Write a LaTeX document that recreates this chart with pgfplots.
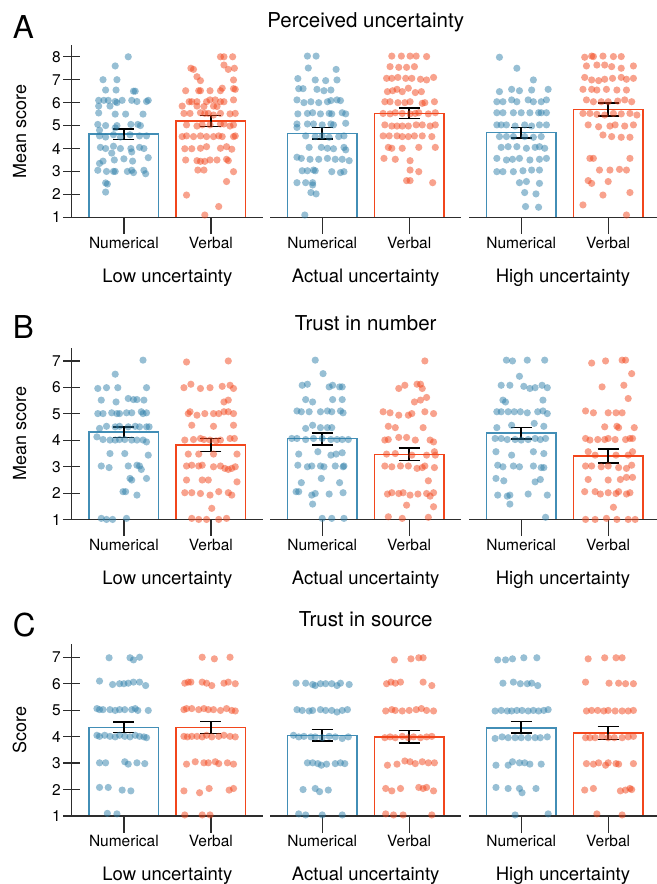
\documentclass[border=0pt]{standalone}
\usepackage{fontspec}
\setmainfont{TeX Gyre Heros}
\usepackage{pgfplots}
\pgfplotsset{compat=1.18}

\definecolor{numblue}{RGB}{48,128,170}
\definecolor{numedge}{RGB}{66,142,182}
\definecolor{verred}{RGB}{242,70,28}
\definecolor{axgray}{RGB}{45,45,45}

\newcommand{\ticksize}{\fontsize{15.5bp}{18bp}\selectfont}
\newcommand{\grpsize}{\fontsize{18.5bp}{22bp}\selectfont}
\newcommand{\labsize}{\fontsize{18bp}{22bp}\selectfont}
\newcommand{\titlesize}{\fontsize{20.5bp}{24bp}\selectfont}
\newcommand{\lettersize}{\fontsize{31.5bp}{36bp}\selectfont}

\pgfplotsset{
  panel/.style={
    scale only axis, height=172bp, width=191.4bp,
    xmin=0.4, xmax=2.6, ymin=1,
    axis on top, axis x line=bottom,
    tick align=outside, major tick length=16.5bp,
    xtick={1,2}, xticklabels={Numerical,Verbal},
    ticklabel style={font=\ticksize},
    xticklabel style={anchor=base, yshift=-14.2bp},
    yticklabel style={inner xsep=1.5bp, xshift=-1bp},
    /pgf/number format/assume math mode=true,
    every axis x label/.style={at={(axis description cs:0.5,0)}, anchor=base, yshift=-64.8bp, font=\grpsize},
    every axis y label/.style={at={(axis description cs:-0.272,0.5)}, rotate=90, anchor=center, font=\labsize},
    every axis title/.style={at={(axis description cs:0.5,1)}, anchor=base, yshift=17.5bp, font=\titlesize},
  },
  lines/.style={
    axis line style={-, line width=1.2bp, draw=axgray},
    x axis line style={-}, y axis line style={-},
    tick style={line width=1.2bp, draw=axgray},
  },
  firstpanel/.style={axis y line=left, lines},
  otherpanel/.style={axis y line=none, lines},
  lastpanel/.style={axis y line=none, width=187.9bp, xmax=2.56, lines},
  rowA/.style={ymax=8.5, ytick={1,...,8}},
  rowBC/.style={ymax=7.5, ytick={1,...,7}},
  numbar/.style={ybar, bar width=0.8, bar shift=0pt, fill=white, draw=numedge, line width=1.5bp},
  verbar/.style={ybar, bar width=0.8, bar shift=0pt, fill=white, draw=verred, line width=1.5bp},
  numdots/.style={only marks, mark=*, mark size=3.6bp, mark options={draw opacity=0, fill=numblue, fill opacity=0.5}},
  verdots/.style={only marks, mark=*, mark size=3.6bp, mark options={draw opacity=0, fill=verred, fill opacity=0.5}},
  errbar/.style={draw=none, mark=none, forget plot, error bars/.cd, y dir=both, y explicit,
    error bar style={line width=1.5bp, draw=black, solid},
    error mark options={line width=1.5bp, draw=black, mark size=10.5bp, rotate=90}},
}

\begin{document}
\begin{tikzpicture}
\useasboundingbox (0,0) rectangle (657bp,-884bp);

% ---------------- Row A: perceived uncertainty ----------------
\node[anchor=base west, inner sep=0, font=\lettersize] at (12.7bp,-38.3bp) {A};

\begin{axis}[panel, firstpanel, rowA, at={(71.7bp,-217.3bp)}, anchor=south west,
  ylabel={Mean score}, xlabel={Low uncertainty}]
\addplot[numbar] coordinates {(1,4.63)};
\addplot[verbar] coordinates {(2,5.21)};
\addplot[numdots] coordinates {
(1.05,8.0)(0.90,7.6)(0.76,7.0)(0.92,7.0)(0.79,6.55)(0.91,6.55)(1.11,6.5)(1.13,6.5)
(0.71,6.1)(0.77,6.1)(0.82,6.1)(0.90,6.05)(0.92,6.0)(0.98,6.1)(1.09,6.1)(1.15,6.05)(1.26,6.05)(1.28,6.1)
(0.71,5.85)(0.84,5.85)(0.71,5.55)(0.90,5.5)(1.02,5.5)(1.22,5.5)
(0.70,5.05)(0.79,5.0)(0.92,5.0)(1.08,5.05)(1.16,5.05)(1.19,5.0)(0.72,4.8)(0.90,4.9)
(0.72,4.55)(0.79,4.5)(0.88,4.6)(0.96,4.5)(1.07,4.6)(1.18,4.55)(1.26,4.55)
(0.73,4.05)(0.79,4.0)(0.88,4.1)(0.96,4.0)(1.08,4.0)(1.18,4.05)(1.23,4.0)(0.86,3.8)(1.09,3.85)
(0.76,3.45)(0.89,3.5)(1.00,3.55)(1.10,3.45)(1.28,3.6)(0.72,3.35)
(0.70,3.05)(0.80,3.0)(0.88,3.0)(0.90,3.0)(1.04,3.0)(1.09,3.05)(1.11,2.95)(1.23,3.05)(1.25,2.9)
(0.79,2.5)(0.81,2.45)(0.79,2.1)
};
\addplot[verdots] coordinates {
(2.11,8.0)(2.15,8.0)(2.25,8.0)
(1.77,7.5)(1.80,7.45)(2.15,7.64)(2.20,7.45)(2.27,7.5)(1.84,7.13)(1.88,6.96)(2.26,6.99)
(1.71,6.52)(1.86,6.52)(1.88,6.52)(1.99,6.52)(2.11,6.52)(2.13,6.63)(2.26,6.61)(2.28,6.58)
(1.75,6.04)(1.78,6.04)(1.84,6.04)(1.95,6.04)(1.99,6.12)(2.05,6.12)(2.11,6.04)(2.15,6.04)(2.26,6.12)
(1.67,5.85)(1.84,5.85)(1.92,5.83)(2.03,5.85)(2.07,5.83)
(1.69,5.53)(1.76,5.53)(1.88,5.56)(1.93,5.53)(1.97,5.53)(2.03,5.46)(2.11,5.53)(2.22,5.51)(2.28,5.53)
(1.72,5.03)(1.84,4.98)(1.90,5.03)(1.99,5.03)(2.11,5.07)(2.15,5.07)(2.22,4.98)(2.26,5.03)
(1.67,4.52)(1.72,4.55)(1.80,4.52)(1.88,4.55)(1.95,4.52)(2.03,4.52)(2.09,4.55)(2.13,4.52)(2.26,4.52)(2.28,4.55)
(1.70,3.99)(1.78,3.99)(1.88,4.01)(1.95,4.08)(2.11,4.01)(2.18,4.08)(2.24,3.97)
(1.71,3.5)(1.84,3.47)(1.88,3.44)(1.93,3.44)(1.99,3.5)(2.07,3.5)(2.18,3.53)(2.20,3.47)
(1.85,3.06)(1.92,3.06)(2.26,2.99)(2.18,2.56)(1.72,1.97)(2.09,1.47)(1.93,1.10)
};
\addplot[errbar] coordinates {(1,4.63) +- (0,0.23) (2,5.20) +- (0,0.24)};
\end{axis}

\begin{axis}[panel, otherpanel, rowA, at={(270bp,-217.3bp)}, anchor=south west,
  xlabel={Actual uncertainty}, title={Perceived uncertainty}]
\addplot[numbar] coordinates {(1,4.66)};
\addplot[verbar] coordinates {(2,5.53)};
\addplot[numdots] coordinates {
(0.83,8.03)(0.93,8.03)(0.84,7.51)(1.16,7.45)(0.72,7.05)(0.92,6.99)(1.04,6.96)(1.17,6.99)
(0.73,6.61)(0.78,6.61)(0.94,6.58)(1.02,6.52)(1.10,6.55)
(0.71,6.12)(0.79,6.0)(0.87,6.04)(0.96,6.0)(1.06,6.04)(1.10,6.09)(1.17,6.12)(1.21,6.09)
(0.72,5.51)(0.83,5.53)(0.89,5.56)(0.98,5.51)(1.08,5.53)(1.11,5.51)(1.23,5.56)(1.27,5.51)
(0.71,5.07)(0.83,5.07)(0.90,5.07)(1.00,5.03)(1.10,5.07)(1.13,5.03)(1.27,5.10)(0.71,4.92)
(0.81,4.55)(0.92,4.52)(1.00,4.55)(1.08,4.49)(1.19,4.52)(1.25,4.55)
(0.85,4.05)(0.99,4.05)(1.06,4.01)(1.13,3.99)(1.25,4.05)(1.27,3.94)
(0.71,3.62)(0.76,3.57)(0.86,3.53)(0.96,3.53)(1.06,3.57)(1.15,3.53)(1.23,3.53)(1.31,3.47)
(0.77,3.03)(0.83,3.03)(0.90,3.06)(0.92,3.03)(1.11,2.99)(1.21,2.95)(1.25,2.99)
(0.71,2.51)(0.81,2.51)(0.89,2.51)(0.89,2.41)(0.87,2.08)(0.93,2.02)(0.80,1.10)
};
\addplot[verdots] coordinates {
(1.80,8.03)(1.91,8.03)(2.01,8.03)(2.08,8.03)(2.20,8.01)
(1.78,7.57)(1.88,7.54)(1.97,7.54)(2.06,7.57)
(1.74,7.06)(1.80,7.06)(1.87,7.10)(1.96,7.06)(2.03,7.06)(2.13,7.02)(2.20,6.99)(2.28,7.10)
(1.75,6.48)(1.81,6.52)(1.86,6.58)(1.92,6.48)(1.99,6.63)(2.07,6.44)(2.14,6.48)
(1.72,6.04)(1.78,6.04)(1.87,6.0)(1.95,6.0)(2.01,6.04)(2.15,5.97)(2.18,6.0)(2.29,6.04)
(1.70,5.53)(1.78,5.51)(1.84,5.56)(1.92,5.53)(2.01,5.51)(2.07,5.53)(2.11,5.56)(2.22,5.51)(2.30,5.56)
(1.72,5.03)(1.80,4.98)(1.86,4.98)(1.92,4.98)(1.99,4.98)(2.08,5.03)(2.15,5.03)(2.24,4.98)(2.30,5.03)
(1.70,4.55)(1.77,4.55)(1.86,4.55)(1.92,4.52)(1.99,4.52)(2.06,4.55)(2.15,4.55)(2.26,4.52)
(1.76,4.05)(1.80,4.01)(1.92,4.01)(2.11,4.05)(2.30,4.05)
(1.71,3.57)(1.84,3.53)(2.01,3.47)(2.01,3.06)(2.11,2.99)(1.97,2.60)(2.01,2.60)(2.27,2.51)
};
\addplot[errbar] coordinates {(1,4.67) +- (0,0.245) (2,5.53) +- (0,0.23)};
\end{axis}

\begin{axis}[panel, lastpanel, rowA, at={(469bp,-217.3bp)}, anchor=south west,
  xlabel={High uncertainty}]
\addplot[numbar] coordinates {(1,4.69)};
\addplot[verbar] coordinates {(2,5.71)};
\addplot[numdots] coordinates {
(0.75,7.98)(0.95,7.50)(1.14,6.99)
(0.75,6.48)(0.89,6.58)(0.98,6.52)(1.12,6.55)(1.31,6.58)
(0.72,6.04)(0.79,6.04)(0.89,6.12)(0.95,6.04)(1.08,6.12)(1.14,6.04)(1.23,6.04)(1.29,6.12)
(0.72,5.56)(0.79,5.56)(0.91,5.56)(1.00,5.56)(1.10,5.56)(1.20,5.56)(1.23,5.56)(1.29,5.56)
(0.72,5.03)(0.77,5.03)(0.83,5.03)(0.93,4.98)(1.04,5.03)(1.12,4.98)(1.21,5.03)(1.29,5.03)
(1.23,4.52)(0.75,4.52)(0.83,4.52)(0.91,4.52)(1.04,4.52)(1.14,4.49)
(0.77,4.05)(0.85,4.08)(0.95,4.08)(1.06,4.01)(1.16,4.05)(1.21,4.08)(1.27,4.01)
(0.72,3.57)(0.83,3.50)(0.90,3.53)(0.98,3.57)(1.10,3.50)(1.21,3.53)(1.29,3.57)
(0.72,2.99)(0.79,2.99)(0.91,2.99)(1.02,3.03)(1.12,3.06)(1.21,3.06)
(0.98,2.51)(1.06,2.56)(1.21,2.48)(1.04,2.08)(1.17,2.02)(1.05,1.47)(1.20,1.44)
};
\addplot[verdots] coordinates {
(1.73,7.98)(1.81,8.03)(1.83,8.01)(1.94,8.03)(2.06,8.01)(2.15,8.01)
(1.75,7.60)(1.87,7.64)(1.96,7.64)(2.04,7.57)(2.15,7.50)(2.29,7.60)
(1.73,7.10)(1.81,6.99)(1.89,6.96)(1.96,7.02)(2.05,7.06)(2.15,7.10)(2.21,7.02)(2.29,7.06)
(1.71,6.58)(1.81,6.58)(1.87,6.55)(1.98,6.58)(2.10,6.55)(2.21,6.55)
(1.75,6.12)(1.83,6.04)(1.92,6.04)(2.00,6.04)(2.11,6.07)(2.19,6.12)(2.27,6.04)
(1.71,5.53)(1.79,5.53)(1.87,5.49)(1.96,5.46)(2.06,5.53)(2.15,5.51)(2.25,5.53)(2.33,5.46)
(1.77,5.03)(1.89,4.95)(2.02,4.98)(2.08,5.03)(2.19,4.98)(2.29,5.03)
(1.94,4.59)(2.04,4.52)(2.15,4.49)(2.25,4.49)
(1.79,3.57)(1.83,3.57)(2.25,3.57)(1.90,3.06)(2.02,3.06)(2.13,3.09)(2.21,3.06)
(1.77,2.60)(1.81,2.48)(2.00,2.56)(1.94,1.97)(2.25,2.08)(1.71,1.54)(2.21,1.10)
};
\addplot[errbar] coordinates {(1,4.69) +- (0,0.225) (2,5.70) +- (0,0.28)};
\end{axis}

% ---------------- Row B: trust in number ----------------
\node[anchor=base west, inner sep=0, font=\lettersize] at (12.7bp,-338.3bp) {B};

\begin{axis}[panel, firstpanel, rowBC, at={(71.7bp,-519.7bp)}, anchor=south west,
  ylabel={Mean score}, xlabel={Low uncertainty}]
\addplot[numbar] coordinates {(1,4.31)};
\addplot[verbar] coordinates {(2,3.83)};
\addplot[numdots] coordinates {
(1.22,7.03)(0.90,6.50)(0.70,5.96)(0.80,5.99)(0.93,5.99)(1.26,5.99)
(0.74,5.52)(0.91,5.45)(1.05,5.58)(1.11,5.54)(1.15,5.54)(1.23,5.52)
(0.70,5.01)(0.76,5.01)(0.86,5.04)(0.92,5.01)(0.95,5.01)(1.03,5.04)(1.09,5.04)(1.20,5.08)(1.22,5.01)(1.26,5.04)
(0.72,4.45)(0.80,4.53)(0.90,4.51)(0.95,4.53)(1.05,4.51)(1.13,4.53)(1.18,4.51)(1.26,4.51)(1.29,4.51)
(0.69,4.13)(0.76,4.03)(0.84,4.01)(0.90,4.01)(0.95,4.03)(1.01,4.03)(1.09,4.01)(1.15,4.01)(1.22,4.01)(1.26,3.94)
(0.84,3.50)(1.01,3.50)(1.28,3.44)
(0.74,3.03)(0.83,2.97)(1.05,3.03)(1.15,3.06)(1.18,3.03)(1.20,2.90)
(1.07,2.56)(1.09,2.50)(1.26,2.56)(0.99,2.06)(1.02,2.06)(1.15,1.93)
(0.74,1.05)(0.80,1.01)(0.87,1.01)(1.03,1.05)
};
\addplot[verdots] coordinates {
(1.72,6.96)(2.20,7.00)
(1.69,5.99)(1.77,6.12)(1.88,5.96)(1.99,5.99)(2.13,6.04)(2.22,6.08)(2.26,5.96)
(2.15,5.45)(2.20,5.52)
(1.74,5.01)(1.76,5.08)(1.84,4.95)(1.93,5.01)(2.03,5.01)(2.09,5.01)(2.15,5.08)(2.20,5.08)(2.26,5.01)
(1.78,4.57)(2.03,4.53)(2.26,4.57)
(1.70,4.01)(1.80,4.03)(1.88,4.07)(1.92,4.03)(1.99,4.01)(2.06,3.98)(2.11,4.01)(2.22,4.07)(2.27,4.07)
(1.74,3.48)(1.86,3.48)(2.03,3.48)(2.30,3.48)
(1.72,3.03)(1.78,3.06)(1.86,3.03)(1.90,3.06)(2.03,3.00)(2.11,3.03)(2.16,2.94)(2.20,2.90)(2.24,2.94)(2.28,3.00)
(1.72,2.50)(1.90,2.50)(1.97,2.50)(2.30,2.43)
(1.70,2.02)(1.78,2.02)(1.88,1.99)(1.99,1.93)(2.09,2.06)(2.20,2.02)(2.24,1.93)
(2.01,1.43)(1.78,1.05)(1.86,1.01)(1.95,1.01)(2.09,1.01)(2.18,1.05)
};
\addplot[errbar] coordinates {(1,4.31) +- (0,0.20) (2,3.83) +- (0,0.245)};
\end{axis}

\begin{axis}[panel, otherpanel, rowBC, at={(270bp,-519.7bp)}, anchor=south west,
  xlabel={Actual uncertainty}, title={Trust in number}]
\addplot[numbar] coordinates {(1,4.06)};
\addplot[verbar] coordinates {(2,3.47)};
\addplot[numdots] coordinates {
(0.92,7.03)(1.01,6.52)
(0.77,6.08)(0.83,6.12)(1.08,6.02)(1.12,6.08)(1.20,6.02)(1.23,6.02)
(0.81,5.54)(0.89,5.45)(1.12,5.54)(1.23,5.54)
(0.71,5.11)(0.76,5.08)(0.85,5.08)(0.98,5.08)(1.06,5.11)(1.11,5.08)(1.21,5.11)(1.24,5.04)
(0.81,4.45)(0.89,4.57)(0.98,4.48)(1.06,4.48)(1.11,4.48)
(0.65,4.07)(0.71,4.07)(0.81,4.03)(0.90,4.07)(1.00,4.07)(1.10,4.03)(1.17,4.03)(1.23,4.03)(1.30,4.03)
(0.73,3.48)(0.95,3.57)(1.10,3.44)(1.16,3.48)(1.23,3.53)
(0.72,3.06)(0.83,3.0)(0.88,3.03)(0.98,3.03)(1.02,3.0)(1.15,3.03)(1.24,3.0)(1.25,3.03)
(0.76,2.40)(0.99,2.56)(1.20,2.40)
(0.70,2.06)(0.73,2.06)(0.88,1.93)(0.92,1.99)(1.08,1.97)(1.24,2.02)
(0.89,1.59)(1.00,1.05)(1.11,1.05)(1.25,1.05)
};
\addplot[verdots] coordinates {
(2.18,7.00)
(1.88,5.96)(1.95,6.08)(2.09,6.12)(2.13,6.12)(2.15,5.96)
(2.06,5.45)(2.13,5.52)(2.20,5.62)
(1.70,5.08)(1.78,5.04)(1.88,4.95)(1.99,4.95)(2.03,5.01)(2.18,5.08)(2.28,5.01)
(1.76,4.53)(1.84,4.48)(2.16,4.48)
(1.72,4.01)(1.76,4.03)(1.88,4.11)(1.97,4.11)(2.07,4.01)(2.24,4.01)(2.28,3.94)
(1.74,3.48)(1.84,3.50)(2.03,3.44)(2.20,3.44)(2.29,3.57)(2.30,3.44)
(1.72,3.03)(1.80,3.0)(1.90,3.03)(1.99,3.03)(2.09,2.94)(2.15,2.97)(2.18,3.03)(2.29,2.97)
(2.22,2.47)
(1.75,1.97)(1.80,2.02)(1.88,1.99)(1.93,2.02)(2.01,1.93)(2.10,1.97)(2.20,1.99)(2.24,1.89)(2.28,2.02)
(1.97,1.55)(2.28,1.49)(1.76,1.11)(1.92,1.05)(2.22,1.09)
};
\addplot[errbar] coordinates {(1,4.05) +- (0,0.235) (2,3.47) +- (0,0.24)};
\end{axis}

\begin{axis}[panel, lastpanel, rowBC, at={(469bp,-519.7bp)}, anchor=south west,
  xlabel={High uncertainty}]
\addplot[numbar] coordinates {(1,4.27)};
\addplot[verbar] coordinates {(2,3.40)};
\addplot[numdots] coordinates {
(0.83,7.03)(0.90,7.00)(1.07,7.03)(1.27,7.03)(0.98,6.42)
(0.77,6.08)(0.87,6.08)(1.03,6.04)(1.10,5.96)(1.16,5.99)(1.24,6.08)(1.30,5.99)
(0.79,5.52)(0.82,5.45)(1.25,5.52)
(0.72,5.08)(0.77,5.08)(0.85,5.08)(0.92,5.08)(0.99,5.08)(1.07,5.04)(1.19,5.08)(1.25,5.11)(1.30,5.01)
(0.72,4.48)(0.89,4.57)(1.15,4.64)(1.26,4.53)
(0.70,4.07)(0.77,4.07)(0.84,4.03)(0.93,4.03)(1.00,4.01)(1.08,4.03)(1.16,4.07)(1.22,4.03)(1.28,4.07)
(0.71,3.57)(0.89,3.44)(1.14,3.57)(1.26,3.50)
(0.73,3.06)(0.79,3.0)(0.91,3.03)(0.98,3.0)(1.14,3.03)(1.23,2.97)(1.26,2.97)
(0.71,2.56)(0.80,2.47)(1.16,2.43)(1.22,2.52)
(0.73,1.93)(0.84,1.89)(0.87,1.93)(1.08,1.97)(1.30,1.93)(0.87,1.59)(1.28,1.09)
};
\addplot[verdots] coordinates {
(1.81,6.92)(1.97,7.00)(2.16,7.03)(2.20,7.03)(2.27,6.52)(1.93,6.02)(2.18,6.08)(2.23,5.58)
(1.74,5.11)(1.83,5.04)(2.00,5.04)(2.09,5.04)(2.16,5.04)
(1.96,4.51)(2.10,4.53)(2.12,4.48)(2.30,4.48)
(1.74,4.07)(1.79,4.01)(1.88,4.03)(1.96,4.03)(2.00,4.07)(2.08,4.03)(2.20,4.03)(2.25,4.07)(2.28,4.07)
(1.77,3.57)(1.85,3.44)(2.09,3.44)(2.23,3.44)(2.28,3.57)
(1.74,3.03)(1.81,3.03)(1.92,3.0)(2.00,3.03)(2.12,2.97)(2.21,2.94)(2.27,3.06)
(1.77,2.52)(2.00,2.50)(2.14,2.52)(2.21,2.60)(2.28,2.60)
(1.73,2.06)(1.85,2.06)(1.91,1.97)(2.00,2.02)(2.09,1.99)(2.12,2.06)(2.21,1.97)(2.25,2.02)
(2.06,1.47)(1.74,1.01)(1.85,1.01)(1.98,1.05)(2.10,1.01)(2.23,1.01)(2.31,1.01)
};
\addplot[errbar] coordinates {(1,4.27) +- (0,0.215) (2,3.40) +- (0,0.265)};
\end{axis}

% ---------------- Row C: trust in source ----------------
\node[anchor=base west, inner sep=0, font=\lettersize] at (12.7bp,-636.7bp) {C};

\begin{axis}[panel, firstpanel, rowBC, at={(71.7bp,-816bp)}, anchor=south west,
  ylabel={Score}, xlabel={Low uncertainty}]
\addplot[numbar] coordinates {(1,4.35)};
\addplot[verbar] coordinates {(2,4.35)};
\addplot[numdots] coordinates {
(0.83,6.98)(1.07,6.98)(1.11,6.90)(1.18,7.00)
(0.72,6.10)(0.87,5.97)(0.95,6.00)(1.00,6.00)(1.05,6.02)(1.11,6.06)(1.18,6.06)(1.25,5.93)
(0.69,5.06)(0.72,5.02)(0.76,5.02)(0.84,5.02)(0.90,4.99)(0.95,5.02)(1.01,5.02)(1.09,5.02)(1.13,5.06)(1.16,4.99)(1.28,4.99)
(0.69,4.05)(0.72,4.01)(0.78,4.05)(0.84,4.01)(0.90,3.99)(0.95,4.05)(1.01,4.01)(1.07,3.99)(1.13,4.05)(1.18,4.01)(1.23,3.99)(1.26,3.96)
(0.72,3.01)(0.79,3.01)(1.01,3.05)(1.05,2.96)(1.15,3.01)(1.24,2.98)
(0.72,2.08)(0.82,2.08)(0.98,1.98)(1.08,1.95)(0.81,1.10)(0.92,1.08)
};
\addplot[verdots] coordinates {
(1.90,7.00)(2.04,6.94)(2.22,7.00)
(1.70,6.02)(1.74,6.06)(1.77,6.06)(1.90,6.06)(1.95,6.02)(2.01,5.93)(2.15,6.02)(2.20,6.06)(2.28,6.00)
(1.69,5.02)(1.72,5.06)(1.78,5.06)(1.86,5.02)(1.92,5.06)(1.97,5.02)(2.03,5.02)(2.11,4.99)(2.18,5.06)(2.24,4.99)(2.28,4.97)
(1.69,4.01)(1.73,3.99)(1.78,4.01)(1.84,4.01)(1.90,3.99)(1.95,4.05)(2.01,3.99)(2.09,4.01)(2.15,4.05)(2.22,4.01)(2.28,3.99)
(1.72,2.96)(1.82,3.05)(1.92,3.01)(1.97,3.01)(2.05,3.05)(2.09,2.98)(2.19,3.01)(2.26,2.96)
(1.69,1.95)(1.87,1.88)(1.98,2.04)(2.21,1.98)(2.26,2.04)(1.70,1.04)(1.90,1.04)(1.99,1.04)
};
\addplot[errbar] coordinates {(1,4.35) +- (0,0.20) (2,4.345) +- (0,0.235)};
\end{axis}

\begin{axis}[panel, otherpanel, rowBC, at={(270bp,-816bp)}, anchor=south west,
  xlabel={Actual uncertainty}, title={Trust in source}]
\addplot[numbar] coordinates {(1,4.04)};
\addplot[verbar] coordinates {(2,3.99)};
\addplot[numdots] coordinates {
(0.70,6.02)(0.81,6.02)(0.89,5.97)(0.92,5.93)(0.98,6.00)(1.04,6.00)(1.11,6.00)(1.17,5.93)(1.21,6.02)(1.31,5.97)
(0.71,5.02)(0.77,4.99)(0.85,4.97)(0.89,4.99)(0.98,5.02)(1.04,4.99)(1.11,4.99)(1.17,4.93)(1.23,4.99)(1.29,5.02)
(0.67,4.05)(0.73,3.99)(0.79,4.01)(0.87,3.99)(0.92,3.99)(1.00,3.96)(1.08,4.01)(1.15,3.99)(1.23,3.93)(1.30,3.99)
(0.83,3.01)(0.89,3.01)(0.95,2.98)(0.99,2.92)(1.05,2.96)(1.15,2.98)(1.21,3.01)(1.26,2.98)
(0.78,2.00)(0.92,2.04)(0.97,1.92)(1.07,1.98)(0.73,1.08)(0.81,1.04)(1.00,1.04)(1.23,1.04)
};
\addplot[verdots] coordinates {
(1.83,6.90)(2.02,6.94)(2.11,6.98)(2.16,6.98)
(1.74,6.00)(1.79,6.06)(1.84,6.02)(1.90,6.06)(2.16,6.06)(2.26,5.93)
(1.73,4.97)(1.80,5.02)(1.84,4.99)(1.92,4.97)(2.00,4.99)(2.08,5.02)(2.14,5.06)(2.20,4.99)(2.28,4.97)
(1.72,3.96)(1.78,3.99)(1.84,3.96)(1.92,4.01)(1.99,3.96)(2.05,3.99)(2.13,3.96)(2.20,3.99)(2.26,4.01)
(1.75,2.92)(1.86,2.96)(1.95,3.08)(2.01,3.05)(2.07,2.98)(2.15,3.05)(2.22,3.01)(2.29,3.01)
(1.73,2.04)(1.80,1.95)(1.90,2.04)(2.11,2.08)(2.16,2.04)(2.20,2.08)(2.28,1.95)
(1.73,1.08)(1.82,1.04)(1.93,1.04)(2.26,1.04)
};
\addplot[errbar] coordinates {(1,4.05) +- (0,0.22) (2,3.995) +- (0,0.235)};
\end{axis}

\begin{axis}[panel, lastpanel, rowBC, at={(469bp,-816bp)}, anchor=south west,
  xlabel={High uncertainty}]
\addplot[numbar] coordinates {(1,4.33)};
\addplot[verbar] coordinates {(2,4.14)};
\addplot[numdots] coordinates {
(0.73,6.90)(0.82,6.90)(0.90,6.94)(1.03,6.98)(1.18,6.98)
(0.79,6.02)(0.91,6.06)(0.99,6.00)(1.07,6.00)(1.12,6.02)(1.19,5.93)
(0.70,4.97)(0.77,4.99)(0.84,4.97)(0.89,4.97)(0.95,4.99)(1.01,4.99)(1.08,4.97)(1.14,4.99)(1.20,4.97)(1.26,4.99)(1.31,5.02)
(0.70,3.93)(0.78,3.99)(0.85,3.96)(0.93,3.96)(1.00,3.96)(1.08,3.96)(1.16,3.96)(1.22,3.96)(1.30,3.99)
(0.71,2.92)(0.85,2.92)(0.90,3.05)(0.98,3.01)(1.04,3.01)(1.10,2.96)(1.23,2.96)
(0.71,2.08)(0.85,2.04)(0.98,2.04)(1.01,1.88)(1.17,2.04)(0.93,1.04)(1.31,1.08)
};
\addplot[verdots] coordinates {
(1.77,6.94)(1.96,6.98)(2.09,6.98)(2.16,6.98)
(1.74,6.06)(2.01,6.02)(2.12,6.02)(2.20,6.00)(2.29,6.00)
(1.75,4.97)(1.81,4.99)(1.88,4.99)(1.95,4.97)(2.00,4.99)(2.08,4.97)(2.16,4.97)(2.23,4.97)(2.29,4.99)
(1.74,3.96)(1.79,3.96)(1.85,3.96)(1.93,4.01)(2.00,3.96)(2.07,3.96)(2.16,3.96)(2.23,3.99)(2.29,4.01)
(1.75,2.98)(1.83,2.96)(1.89,3.01)(1.97,2.92)(2.00,3.01)(2.09,2.98)(2.12,2.96)(2.29,2.98)
(1.73,1.98)(1.83,2.04)(2.14,1.95)(2.20,1.98)(2.25,2.04)(2.27,2.00)(1.87,1.08)(2.16,1.04)
};
\addplot[errbar] coordinates {(1,4.35) +- (0,0.22) (2,4.14) +- (0,0.25)};
\end{axis}
\end{tikzpicture}
\end{document}
